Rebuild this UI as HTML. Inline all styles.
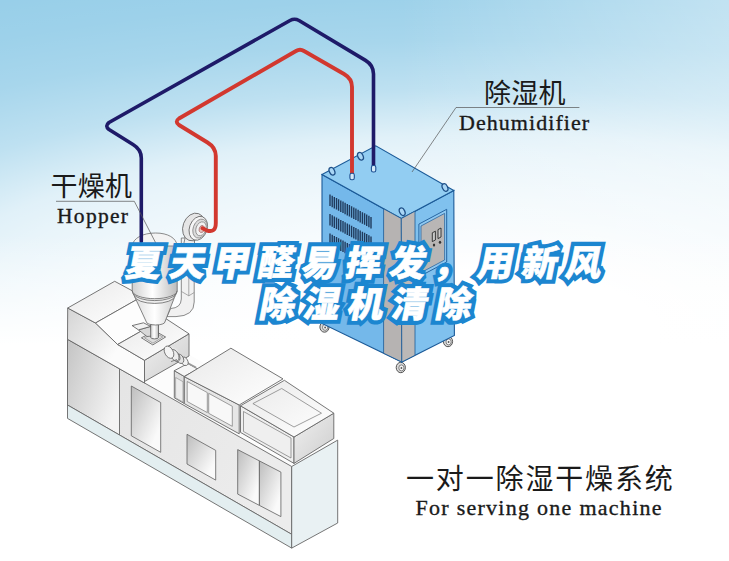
<!DOCTYPE html>
<html><head><meta charset="utf-8"><title>diagram</title>
<style>
html,body{margin:0;padding:0;background:#fff;}
body{width:729px;height:561px;overflow:hidden;font-family:"Liberation Serif",serif;}
#bg{position:absolute;left:0;top:0;width:729px;height:561px;
background:linear-gradient(to bottom,rgba(255,255,255,0) 235px,#fff 345px),linear-gradient(to right,rgba(255,255,255,0) 400px,rgba(255,255,255,.38) 729px),radial-gradient(ellipse 1101px 367px at 480px 330px,#fff 16.3%,rgba(255,255,255,.93) 27.2%,rgba(255,255,255,.85) 39%,rgba(255,255,255,.78) 47.7%,rgba(255,255,255,.70) 53.4%,rgba(255,255,255,.37) 65.7%,rgba(255,255,255,.15) 79%,rgba(255,255,255,.05) 90.2%,rgba(255,255,255,0) 100%),#98cfe9;}
svg{position:absolute;left:0;top:0;display:block}
</style></head><body><div id="bg"></div>
<svg width="729" height="561" viewBox="0 0 729 561"><defs>
<linearGradient id="gFrontL" x1="0" y1="0" x2="1" y2="0.6"><stop offset="0" stop-color="#c4c4c4"/><stop offset="1" stop-color="#f4f4f4"/></linearGradient>
<linearGradient id="gFront" x1="0" y1="0" x2="1" y2="0.5"><stop offset="0" stop-color="#e2e2e2"/><stop offset="1" stop-color="#ececec"/></linearGradient>
<linearGradient id="gDoor" x1="0" y1="0" x2="1" y2="1"><stop offset="0" stop-color="#bdbdbd"/><stop offset="0.8" stop-color="#fafafa"/></linearGradient>
<linearGradient id="gTop" x1="0" y1="0" x2="1" y2="1"><stop offset="0" stop-color="#e9e9e9"/><stop offset="1" stop-color="#ffffff"/></linearGradient>
<linearGradient id="gHouseF" x1="0" y1="0" x2="1" y2="0.7"><stop offset="0" stop-color="#d4d4d4"/><stop offset="0.7" stop-color="#fbfbfb"/></linearGradient>
<linearGradient id="gHouse" x1="0" y1="0" x2="1" y2="1"><stop offset="0" stop-color="#f0f0f0"/><stop offset="1" stop-color="#cdcdcd"/></linearGradient>
<linearGradient id="gCone" x1="0" y1="0" x2="1" y2="0"><stop offset="0" stop-color="#dcdcdc"/><stop offset="0.5" stop-color="#ffffff"/><stop offset="1" stop-color="#cfcfcf"/></linearGradient>
<linearGradient id="gCyl" x1="0" y1="0" x2="1" y2="0"><stop offset="0" stop-color="#d0d0d0"/><stop offset="0.45" stop-color="#ffffff"/><stop offset="1" stop-color="#bcbcbc"/></linearGradient>
</defs>
<ellipse cx="324.5" cy="327" rx="4.6" ry="5.2" fill="#d9d9d9" stroke="#444" stroke-width="0.9"/>
<ellipse cx="325.1" cy="327.4" rx="2.6" ry="3" fill="#f4f4f4" stroke="#555" stroke-width="0.7"/>
<ellipse cx="325.1" cy="327.4" rx="0.9" ry="1" fill="#555"/>
<ellipse cx="448" cy="341.5" rx="4.6" ry="5.2" fill="#d9d9d9" stroke="#444" stroke-width="0.9"/>
<ellipse cx="448.6" cy="341.9" rx="2.6" ry="3" fill="#f4f4f4" stroke="#555" stroke-width="0.7"/>
<ellipse cx="448.6" cy="341.9" rx="0.9" ry="1" fill="#555"/>
<ellipse cx="400.8" cy="367.5" rx="4.6" ry="5.2" fill="#d9d9d9" stroke="#444" stroke-width="0.9"/>
<ellipse cx="401.40000000000003" cy="367.9" rx="2.6" ry="3" fill="#f4f4f4" stroke="#555" stroke-width="0.7"/>
<ellipse cx="401.40000000000003" cy="367.9" rx="0.9" ry="1" fill="#555"/>
<polygon points="322.0,174.6 401.3,218.5 401.8,362.0 322.0,323.5" fill="#74b8ea" stroke="#1b5a98" stroke-width="1.1"/>
<polygon points="401.3,218.5 453.8,190.4 454.4,335.5 401.8,362.0" fill="#80c1ee" stroke="#1b5a98" stroke-width="1.1"/>
<polygon points="322.0,174.6 375.8,145.8 453.8,190.4 401.3,218.5" fill="#92cdf2" stroke="#1b5a98" stroke-width="1.1"/>
<polygon points="383.6,208.8 401.3,218.5 401.8,362 383.6,353.2" fill="#b6b3b2" stroke="#1b5a98" stroke-width="0.8"/>
<polygon points="401.3,218.5 415,211.2 415,355.3 401.8,362" fill="#bbb8b7" stroke="#1b5a98" stroke-width="0.8"/>
<path d="M330.0 194.5v11.5M332.2 195.7v11.5M334.3 196.9v11.5M336.5 198.0v11.5M338.6 199.2v11.5M340.8 200.4v11.5M343.0 201.6v11.5M345.1 202.7v11.5M347.3 203.9v11.5M349.4 205.1v11.5M351.6 206.3v11.5M353.8 207.4v11.5M355.9 208.6v11.5M358.1 209.8v11.5M360.2 211.0v11.5M362.4 212.2v11.5M364.6 213.3v11.5M366.7 214.5v11.5M368.9 215.7v11.5M371.0 216.9v11.5" stroke="#203a5c" stroke-width="1.4" fill="none"/>
<path d="M330.0 214.0v11.5M332.2 215.2v11.5M334.3 216.4v11.5M336.5 217.5v11.5M338.6 218.7v11.5M340.8 219.9v11.5M343.0 221.1v11.5M345.1 222.2v11.5M347.3 223.4v11.5M349.4 224.6v11.5M351.6 225.8v11.5M353.8 226.9v11.5M355.9 228.1v11.5M358.1 229.3v11.5M360.2 230.5v11.5M362.4 231.7v11.5M364.6 232.8v11.5M366.7 234.0v11.5M368.9 235.2v11.5M371.0 236.4v11.5" stroke="#203a5c" stroke-width="1.4" fill="none"/>
<path d="M330.0 233.5v11.5M332.2 234.7v11.5M334.3 235.9v11.5M336.5 237.0v11.5M338.6 238.2v11.5M340.8 239.4v11.5M343.0 240.6v11.5M345.1 241.7v11.5M347.3 242.9v11.5M349.4 244.1v11.5M351.6 245.3v11.5M353.8 246.4v11.5M355.9 247.6v11.5M358.1 248.8v11.5M360.2 250.0v11.5M362.4 251.2v11.5M364.6 252.3v11.5M366.7 253.5v11.5M368.9 254.7v11.5M371.0 255.9v11.5" stroke="#203a5c" stroke-width="1.4" fill="none"/>
<polygon points="418.9,224.1 446.7,209.3 446.7,262 418.9,276.8" fill="#8fc8f0" stroke="#1b5a98" stroke-width="0.9"/>
<polygon points="421,226 444.6,213.4 444.6,260 421,272.6" fill="#b9b6b5" stroke="#1b5a98" stroke-width="0.7"/>
<polygon points="432.3,232.8 435.4,231.2 435.4,240 432.3,241.6" fill="#c9c9c9" stroke="#2a2a2a" stroke-width="0.9"/>
<polygon points="438,229.6 441,228 441,237 438,238.6" fill="#c9c9c9" stroke="#2a2a2a" stroke-width="0.9"/>
<ellipse cx="434" cy="245" rx="1.2" ry="1.5" fill="#333"/><ellipse cx="440" cy="242.3" rx="1.2" ry="1.5" fill="#333"/>
<ellipse cx="332" cy="171.3" rx="2.6" ry="4" transform="rotate(-25 332 171.3)" fill="#a9d6f5" stroke="#1f5088" stroke-width="1.3"/>
<ellipse cx="360.5" cy="156.3" rx="2.6" ry="4" transform="rotate(-25 360.5 156.3)" fill="#a9d6f5" stroke="#1f5088" stroke-width="1.3"/>
<ellipse cx="402.2" cy="211.7" rx="2.6" ry="4" transform="rotate(-25 402.2 211.7)" fill="#a9d6f5" stroke="#1f5088" stroke-width="1.3"/>
<ellipse cx="445" cy="187.5" rx="2.6" ry="4" transform="rotate(-25 445 187.5)" fill="#a9d6f5" stroke="#1f5088" stroke-width="1.3"/>
<polygon points="67.5,339.3 115,312 337.7,440.1 291.7,466.5" fill="#fcfcfc"/>
<polygon points="67.5,339.3 291.7,466.5 291.7,534.3 67.5,405.0" fill="url(#gFront)" stroke="#666666" stroke-width="0.9" stroke-linejoin="round" />
<polygon points="67.5,339.3 119.5,368.8 119.5,435.0 67.5,405.0" fill="url(#gFrontL)" stroke="#666666" stroke-width="0.9" stroke-linejoin="round" />
<polygon points="67.5,405.0 291.7,534.3 291.7,548.1 67.5,418.4" fill="#e3eef0" stroke="#666666" stroke-width="0.9" stroke-linejoin="round" />
<polygon points="291.7,466.5 337.7,440.1 337.7,523.0 291.7,548.1" fill="#e9f1f3" stroke="#666666" stroke-width="0.9" stroke-linejoin="round" />
<polygon points="131.3,386.0 160.7,402.5 160.7,452.3 131.3,435.8" fill="url(#gDoor)" stroke="#5f5f5f" stroke-width="0.8" stroke-linejoin="round" />
<polygon points="187.0,434.3 215.7,450.4 215.7,480.1 187.0,464.0" fill="url(#gDoor)" stroke="#5f5f5f" stroke-width="0.8" stroke-linejoin="round" />
<polygon points="237.7,449.6 259.4,460.9 259.4,505.4 237.7,494.1" fill="url(#gDoor)" stroke="#5f5f5f" stroke-width="0.8" stroke-linejoin="round" />
<polygon points="259.4,460.9 280.9,472.1 280.9,516.6 259.4,505.4" fill="url(#gDoor)" stroke="#5f5f5f" stroke-width="0.8" stroke-linejoin="round" />
<polygon points="144.5,360.3 189.0,333.8 189.0,356.0 144.5,381.5" fill="url(#gHouse)" stroke="#666666" stroke-width="0.9" stroke-linejoin="round" />
<polygon points="67.7,308.0 95.5,323.0 117.6,344.5 144.5,360.3 144.5,383.0 67.5,339.3" fill="url(#gHouseF)" stroke="#666666" stroke-width="0.9" stroke-linejoin="round" />
<polygon points="67.7,308.0 114.7,281.3 142.5,296.3 95.5,323.0" fill="url(#gTop)" stroke="#666666" stroke-width="0.9" stroke-linejoin="round" />
<polygon points="95.5,323.0 142.5,296.3 164.6,317.8 117.6,344.5" fill="#fdfdfd" stroke="#666666" stroke-width="0.9" stroke-linejoin="round" />
<polygon points="117.6,344.5 164.6,317.8 189.0,333.8 144.5,360.3" fill="url(#gTop)" stroke="#666666" stroke-width="0.9" stroke-linejoin="round" />
<polygon points="174.3,370.7 184.2,376.4 184.2,403.5 174.3,397.8" fill="#dedede" stroke="#666666" stroke-width="0.9" stroke-linejoin="round" />
<polygon points="174.3,370.7 187.8,363.5 197.8,369.0 184.2,376.4" fill="#f6f6f6" stroke="#666666" stroke-width="0.9" stroke-linejoin="round" />
<polygon points="175.6,377.5 183.0,381.7 183.0,402.0 175.6,397.8" fill="#ececec" stroke="#888" stroke-width="0.6" stroke-linejoin="round" />
<polygon points="184.3,376.7 239.2,405.0 239.2,433.8 184.3,403.6" fill="#e6e6e6" stroke="#666666" stroke-width="0.9" stroke-linejoin="round" />
<polygon points="184.3,376.7 230.9,348.2 283.0,378.9 239.2,405.0" fill="url(#gTop)" stroke="#666666" stroke-width="0.9" stroke-linejoin="round" />
<polygon points="187.2,381.5 207.3,392.6 207.3,412.6 187.2,401.5" fill="#f8f8f8" stroke="#777" stroke-width="0.7" stroke-linejoin="round" />
<polygon points="208.7,393.3 232.3,406.3 232.3,426.3 208.7,413.3" fill="#f8f8f8" stroke="#777" stroke-width="0.7" stroke-linejoin="round" />
<polygon points="240.5,405.8 294.0,437.0 294.0,463.4 240.5,432.4" fill="#efefef" stroke="#666666" stroke-width="0.9" stroke-linejoin="round" />
<polygon points="294.0,437.0 333.8,413.2 333.8,438.5 294.0,463.4" fill="url(#gHouse)" stroke="#666666" stroke-width="0.9" stroke-linejoin="round" />
<polygon points="240.5,405.8 284.4,380.3 333.8,413.2 294.0,437.0" fill="url(#gTop)" stroke="#666666" stroke-width="0.9" stroke-linejoin="round" />
<polygon points="252.9,403.6 281.7,388.5 321.5,413.2 294.0,427.0" fill="none" stroke="#777" stroke-width="0.7" stroke-linejoin="round" />
<polygon points="243.5,411.5 291.0,438.0 291.0,458.0 243.5,431.5" fill="none" stroke="#777" stroke-width="0.7" stroke-linejoin="round" />
<path d="M183 360.5 L196 367.5" stroke="#999" stroke-width="1.6"/>
<ellipse cx="184.5" cy="361.3" rx="3.2" ry="4.6" fill="#f2f2f2" stroke="#666666" stroke-width="0.8" transform="rotate(-28 184.5 361.3)"/>
<ellipse cx="180" cy="358.8" rx="3.4" ry="5" fill="#e3e3e3" stroke="#666666" stroke-width="0.8" transform="rotate(-28 180 358.8)"/>
<ellipse cx="176.2" cy="356.7" rx="3.4" ry="5" fill="#e9e9e9" stroke="#666666" stroke-width="0.8" transform="rotate(-28 176.2 356.7)"/>
<polygon points="166.6,349.6 172.6,346.4 177.5,349.2 176.5,359.5 170.2,359.8" fill="#e4e4e4"/>
<ellipse cx="174.6" cy="355.3" rx="3.8" ry="6.2" fill="#ededed" stroke="#666666" stroke-width="0.8" transform="rotate(-28 174.6 355.3)"/>
<path d="M166.7 348 L172.2 351 M171 361.6 L177 359.5" stroke="#6e6e6e" stroke-width="0.8" fill="none"/>
<ellipse cx="169" cy="352.2" rx="4.2" ry="6.6" fill="#f4f4f4" stroke="#666666" stroke-width="0.8" transform="rotate(-28 169 352.2)"/>
<polygon points="141.4,337.8 155.0,331.0 165.6,337.0 152.8,344.9" fill="#f0f0f0" stroke="#666666" stroke-width="0.9" stroke-linejoin="round" />
<polygon points="144.4,337.8 155.0,332.6 162.8,337.0 152.9,343.2" fill="#dcdcdc" stroke="#777" stroke-width="0.6" stroke-linejoin="round" />
<polygon points="138.5,329.9 150.7,326.4 152.0,336.0 147.0,336.5" fill="#d8d8d8" stroke="#555" stroke-width="0.7" stroke-linejoin="round" />
<polygon points="132.1,325.6 143.5,322.8 150.7,326.4 138.5,329.9" fill="#f2f2f2" stroke="#555" stroke-width="0.8" stroke-linejoin="round" />
<path d="M150.7 324.5 V337.3 A3.9 1.6 0 0 0 158.5 337.3 V324.5 Z" fill="url(#gCyl)" stroke="#555" stroke-width="0.8"/>
<path d="M181.3 238 V299 Q181 308 170.6 308.5 L167 316.6 H176 Q194.2 316 194.2 302 V238 Z" fill="#f1f1f1" stroke="#6e6e6e" stroke-width="0.8"/>
<path d="M188.8 241 V296" stroke="#8a8a8a" stroke-width="0.7"/>
<path d="M181.3 291.4 L188.8 295.8 L194.2 292.5" fill="none" stroke="#8a8a8a" stroke-width="0.7"/>
<path d="M134.3 296 L146.4 322 A9.25 3 0 0 0 164.9 322 L175 296 Z" fill="url(#gCone)" stroke="#666" stroke-width="0.8"/>
<path d="M132.2 290.7 L134.3 296 A20.4 8 0 0 0 175 296 L177.2 290.7 Z" fill="#ededed" stroke="none"/>
<path d="M132.2 244 V290.7 A22.5 8 0 0 0 177.2 290.7 V244 Z" fill="url(#gCyl)" stroke="#666" stroke-width="0.8"/>
<path d="M132.2 290.7 L133 293.5 A22 8.5 0 0 0 176.4 293.5 L177.2 290.7" fill="none" stroke="#666" stroke-width="0.8"/>
<path d="M133 293.5 L134.3 296 A20.4 8 0 0 0 175 296 L176.4 293.5" fill="none" stroke="#666" stroke-width="0.8"/>
<path d="M132.2 246 C133 238 143 233 155.5 233 C168 233 176.5 238 177.2 246 Z" fill="#f3f3f3" stroke="#6e6e6e" stroke-width="0.8"/>
<path d="M185.5 236 L183.5 245 H194.5 L194.5 238 Z" fill="#efefef" stroke="#6e6e6e" stroke-width="0.8"/>
<ellipse cx="193.8" cy="227" rx="10.8" ry="14.2" fill="#e6e6e6" stroke="#666666" stroke-width="0.8" transform="rotate(20 193.8 227)"/>
<ellipse cx="198.3" cy="228.3" rx="8.8" ry="12.3" fill="#f6f6f6" stroke="#666666" stroke-width="0.8" transform="rotate(20 198.3 228.3)"/>
<ellipse cx="200" cy="228.6" rx="6.8" ry="9.8" fill="#dcdcdc" stroke="#888" stroke-width="0.8" transform="rotate(20 200 228.6)"/>
<ellipse cx="201" cy="228.8" rx="5" ry="7.2" fill="#f2f2f2" stroke="#888" stroke-width="0.8" transform="rotate(20 201 228.8)"/>
<ellipse cx="201.8" cy="229" rx="2.6" ry="3.6" fill="#e4c4c0" stroke="#a77" stroke-width="0.8" transform="rotate(20 201.8 229)"/>
<path d="M141.3 241.5 V158 Q141.3 149.5 133 144.5 L109 129.5 Q104.5 126 109 122.5 L290 20.5 Q294.5 18 299 20.5 L365.5 60.4 Q373.5 65.2 373.5 74 V167" fill="none" stroke="#1e1a68" stroke-width="3.6" stroke-linejoin="round" stroke-linecap="round"/>
<path d="M202.5 228.3 L206.5 230.3 Q215.8 233.5 215.8 223 V156 Q215.8 147.5 207.5 142.5 L179 125 Q174.5 121.5 179 118.5 L296 51 Q300 48.5 304 51 L344 74 Q352 78.6 352 87 V173" fill="none" stroke="#d2382f" stroke-width="3.9" stroke-linejoin="round" stroke-linecap="round"/>
<rect x="349.90000000000003" y="173.2" width="4.4" height="6.5" rx="1.8" fill="#d4e9f8" stroke="#1c4f92" stroke-width="1.1"/>
<rect x="371.40000000000003" y="165.5" width="4.4" height="6.5" rx="1.8" fill="#d4e9f8" stroke="#1c4f92" stroke-width="1.1"/>
<text x="50.5" y="196" font-size="27" letter-spacing="0.2" font-family="Liberation Sans, Noto Sans CJK SC, sans-serif" fill="#1a1a1a">干燥机</text>
<text x="484" y="102.8" font-size="27" letter-spacing="0.2" font-family="Liberation Sans, Noto Sans CJK SC, sans-serif" fill="#1a1a1a">除湿机</text>
<text x="406" y="489" font-size="28" letter-spacing="1.85" font-family="Liberation Sans, Noto Sans CJK SC, sans-serif" fill="#1a1a1a">一对一除湿干燥系统</text>
<text x="57" y="223.2" font-size="21.5" letter-spacing="1.3" font-family="Liberation Serif, serif" fill="#1a1a1a" stroke="#1a1a1a" stroke-width="0.35">Hopper</text>
<text x="459" y="130" font-size="22" letter-spacing="1.05" font-family="Liberation Serif, serif" fill="#1a1a1a" stroke="#1a1a1a" stroke-width="0.35">Dehumidifier</text>
<text x="415.5" y="515.3" font-size="22" letter-spacing="1.27" font-family="Liberation Serif, serif" fill="#1a1a1a" stroke="#1a1a1a" stroke-width="0.35">For serving one machine</text>
<path d="M56 201.3 H134.3 L156 243.5" fill="none" stroke="#555" stroke-width="0.7"/>
<path d="M579.4 107.5 H456 L412 172" fill="none" stroke="#555" stroke-width="0.7"/>
<text transform="translate(366,276) skewX(-11)" x="0" y="0" text-anchor="middle" font-size="36" font-weight="900" letter-spacing="8" font-family="Liberation Sans, Noto Sans CJK SC, sans-serif" fill="#1c86d0" stroke="#1c86d0" stroke-width="8.8" stroke-linejoin="miter" stroke-miterlimit="1.8">夏天甲醛易挥发，用新风</text>
<text transform="translate(366,276) skewX(-11)" x="0" y="0" text-anchor="middle" font-size="36" font-weight="900" letter-spacing="8" font-family="Liberation Sans, Noto Sans CJK SC, sans-serif" fill="#fff" stroke="#fff" stroke-width="0.6" stroke-linejoin="miter">夏天甲醛易挥发，用新风</text>
<text transform="translate(368,317) skewX(-11)" x="0" y="0" text-anchor="middle" font-size="36" font-weight="900" letter-spacing="8" font-family="Liberation Sans, Noto Sans CJK SC, sans-serif" fill="#1c86d0" stroke="#1c86d0" stroke-width="8.8" stroke-linejoin="miter" stroke-miterlimit="1.8">除湿机清除</text>
<text transform="translate(368,317) skewX(-11)" x="0" y="0" text-anchor="middle" font-size="36" font-weight="900" letter-spacing="8" font-family="Liberation Sans, Noto Sans CJK SC, sans-serif" fill="#fff" stroke="#fff" stroke-width="0.6" stroke-linejoin="miter">除湿机清除</text>
</svg>
</body></html>
